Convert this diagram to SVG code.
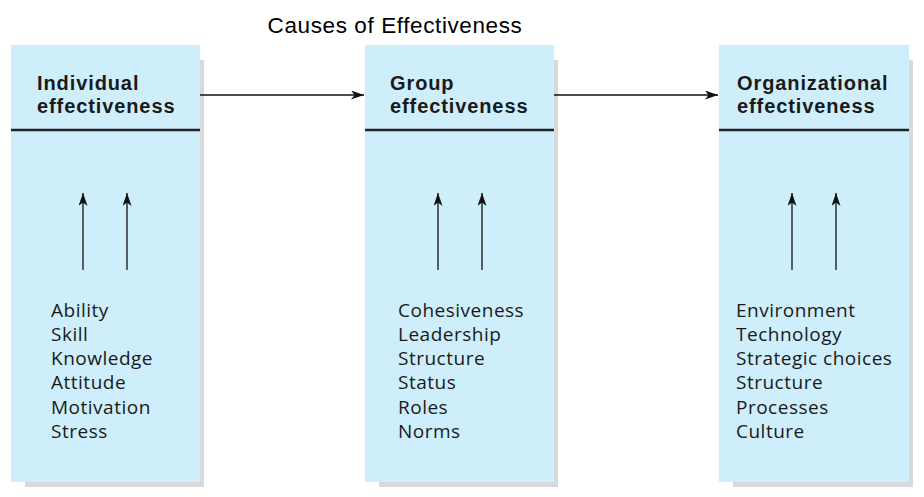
<svg xmlns="http://www.w3.org/2000/svg" width="924" height="497" viewBox="0 0 924 497">
<defs>
<style>
.shadow{fill:#d9d9db}
.box{fill:#cdeefa}
.rule{stroke:#222;stroke-width:2.5}
.head{font-family:"Liberation Sans",Arial,sans-serif;font-weight:bold;font-size:20px;letter-spacing:0.9px;fill:#1a1a1a}
.item{font-family:"Open Sans","Liberation Sans",sans-serif;font-size:19px;letter-spacing:0.5px;fill:#1a1a1a}
.title{font-family:"Liberation Sans",Arial,sans-serif;font-size:22.5px;letter-spacing:0.6px;fill:#000}
.conn{stroke:#111;stroke-width:1.3;fill:none;marker-end:url(#ah)}
</style>
<marker id="ah" viewBox="0 0 13 9" refX="13" refY="4.5" markerWidth="13" markerHeight="9" markerUnits="userSpaceOnUse" orient="auto">
<path d="M0,0 L13,4.5 L0,9 L3.5,4.5 Z" fill="#111"/>
</marker>
</defs>
<rect width="924" height="497" fill="#fff"/>
<text class="title" x="395" y="33" text-anchor="middle">Causes of Effectiveness</text>

<g id="individual">
<rect class="shadow" x="25" y="60" width="179" height="427"/>
<rect class="box" x="11" y="45" width="189" height="437"/>
<line class="rule" x1="11" y1="130" x2="200" y2="130"/>
<text class="head"><tspan x="37" y="90">Individual</tspan><tspan x="37" y="113">effectiveness</tspan></text>
<text class="item" x="51" y="317">Ability</text>
<text class="item" x="51" y="341">Skill</text>
<text class="item" x="51" y="365">Knowledge</text>
<text class="item" x="51" y="389">Attitude</text>
<text class="item" x="51" y="414">Motivation</text>
<text class="item" x="51" y="438">Stress</text>
</g>

<g id="group">
<rect class="shadow" x="379" y="60" width="179" height="427"/>
<rect class="box" x="365" y="45" width="189" height="437"/>
<line class="rule" x1="365" y1="130" x2="554" y2="130"/>
<text class="head"><tspan x="390" y="90">Group</tspan><tspan x="390" y="113">effectiveness</tspan></text>
<text class="item" x="398" y="317">Cohesiveness</text>
<text class="item" x="398" y="341">Leadership</text>
<text class="item" x="398" y="365">Structure</text>
<text class="item" x="398" y="389">Status</text>
<text class="item" x="398" y="414">Roles</text>
<text class="item" x="398" y="438">Norms</text>
</g>

<g id="organizational">
<rect class="shadow" x="733" y="60" width="180" height="427"/>
<rect class="box" x="719" y="45" width="190" height="437"/>
<line class="rule" x1="719" y1="130" x2="909" y2="130"/>
<text class="head"><tspan x="737" y="90">Organizational</tspan><tspan x="737" y="113">effectiveness</tspan></text>
<text class="item" x="736" y="317">Environment</text>
<text class="item" x="736" y="341">Technology</text>
<text class="item" x="736" y="365">Strategic choices</text>
<text class="item" x="736" y="389">Structure</text>
<text class="item" x="736" y="414">Processes</text>
<text class="item" x="736" y="438">Culture</text>
</g>

<g id="connectors">
<line class="conn" x1="200" y1="95" x2="364" y2="95"/>
<line class="conn" x1="554" y1="95" x2="718" y2="95"/>
<line class="conn" x1="83" y1="270" x2="83" y2="193"/>
<line class="conn" x1="127" y1="270" x2="127" y2="193"/>
<line class="conn" x1="438" y1="270" x2="438" y2="193"/>
<line class="conn" x1="482" y1="270" x2="482" y2="193"/>
<line class="conn" x1="792" y1="270" x2="792" y2="193"/>
<line class="conn" x1="836" y1="270" x2="836" y2="193"/>
</g>
</svg>
